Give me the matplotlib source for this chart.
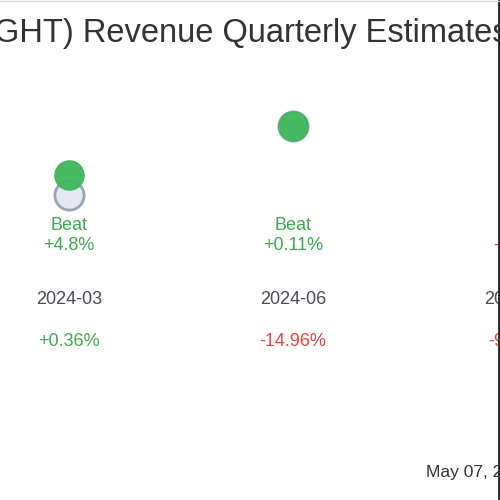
import matplotlib
matplotlib.use("Agg")
import matplotlib.pyplot as plt
import matplotlib.transforms as mtransforms

quarters = ["2024-03", "2024-06", "2024-09"]
estimates = [100.0, 116.5, 112.0]
actuals = [104.8, 116.6, 110.3]
result = ["Beat", "Beat", "Miss"]
surprise = ["+4.8%", "+0.11%", "-1.5%"]
change = ["+0.36%", "-14.96%", "-9.12%"]

GREEN = "#3daa4f"
RED = "#e8453c"

fig = plt.figure(figsize=(5, 5), dpi=100)
ax = fig.add_axes([0, 0, 1, 1])
ax.set_xlim(-69 / 224, 431 / 224)
ax.set_ylim(104.8 - 325 / 4.17, 104.8 + 175 / 4.17)
ax.axis("off")

xs = list(range(len(quarters)))
ax.plot(xs, estimates, "o", ms=21, mfc="#e6e8f0", mec="#9ca2bb", mew=2, zorder=2, clip_on=False)
ax.plot(xs, actuals, "o", ms=21, mfc="#3cb85a", mec="#3cb85a", alpha=0.95, zorder=3, clip_on=False)

tr = mtransforms.blended_transform_factory(ax.transData, ax.transAxes)
def py(p):
    return 1 - p / 500
fs = 13
for i in xs:
    c = GREEN if result[i] == "Beat" else RED
    ax.text(i, py(226), result[i], transform=tr, ha="center", va="center", color=c, fontsize=fs, family="Liberation Sans")
    ax.text(i, py(245), surprise[i], transform=tr, ha="center", va="center", color=c, fontsize=fs, family="Liberation Sans")
    ax.text(i, py(300), quarters[i], transform=tr, ha="center", va="center", color="#4a4a5a", fontsize=fs, family="Liberation Sans")
    cc = GREEN if change[i].startswith("+") else RED
    ax.text(i, py(342), change[i], transform=tr, ha="center", va="center", color=cc, fontsize=fs, family="Liberation Sans")

fig.text(-0.012, 1 - 33 / 500, "GHT) Revenue Quarterly Estimates vs Actuals", ha="left", va="center",
         fontsize=23.5, color="#333333", family="Liberation Sans")
fig.text(0.853, 1 - 473 / 500, "May 07, 2025", ha="left", va="center", fontsize=12.5, color="#333333", family="Liberation Sans")
fig.add_artist(plt.Line2D([0.997, 0.997], [0, 1], transform=fig.transFigure, color="#222222", lw=2))
fig.add_artist(plt.Line2D([0, 1], [0.999, 0.999], transform=fig.transFigure, color="#dddddd", lw=1))
fig.savefig("out.png", dpi=100)
